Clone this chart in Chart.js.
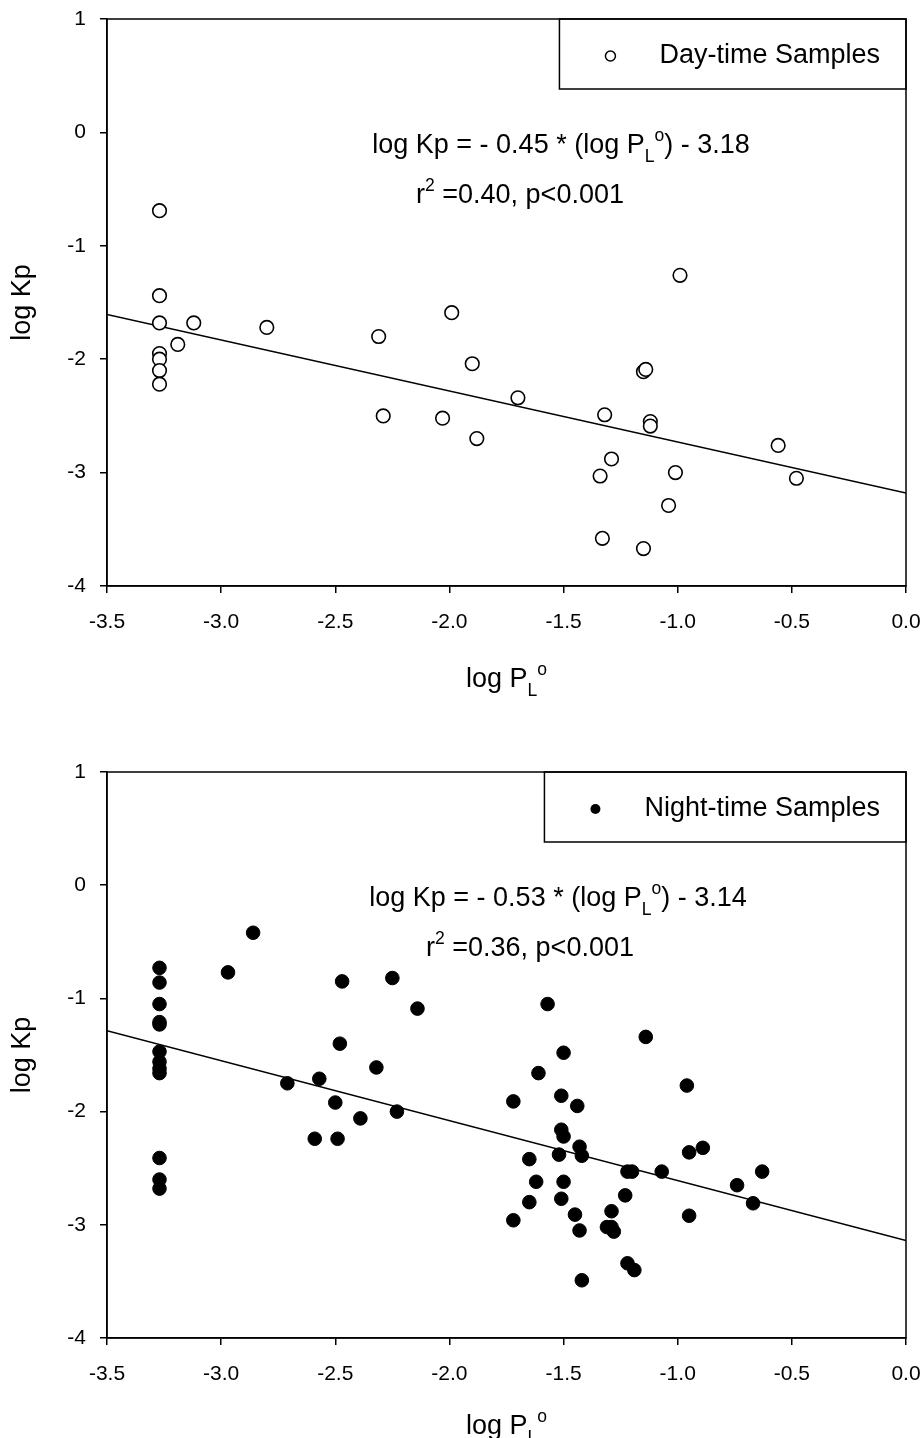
<!DOCTYPE html>
<html>
<head>
<meta charset="utf-8">
<script src="https://cdn.jsdelivr.net/npm/chart.js@4.4.1/dist/chart.umd.min.js"></script>
<style>
  html, body { margin: 0; padding: 0; background: #fff; }
  canvas { display: block; }
</style>
</head>
<body>
<canvas id="dayChart" width="922" height="719"></canvas>
<canvas id="nightChart" width="922" height="719"></canvas>
<script>
// Day-time samples: log PL° (x) vs log Kp (y)
const dayX = [-3.27, -3.27, -3.27, -3.27, -3.27, -3.27, -3.27, -3.19, -3.12, -2.80,
              -2.31, -2.29, -1.99, -2.03, -1.90, -1.88, -1.70, -1.34, -1.33, -1.32,
              -1.29, -1.15, -1.14, -1.15, -1.12, -1.12, -0.99, -1.01, -1.04, -0.56, -0.48];
const dayY = [-0.69, -1.44, -1.68, -1.95, -2.00, -2.10, -2.22, -1.87, -1.68, -1.72,
              -1.80, -2.50, -1.59, -2.52, -2.04, -2.70, -2.34, -3.03, -3.58, -2.49,
              -2.88, -2.11, -2.09, -3.67, -2.55, -2.59, -1.26, -3.00, -3.29, -2.76, -3.05];

// Night-time samples
const nightX = [-3.27, -3.27, -3.27, -3.27, -3.27, -3.27, -3.27, -3.27, -3.27, -3.27, -3.27, -3.27,
                -2.86, -2.97, -2.47, -2.25, -2.14, -2.48, -2.32, -2.71, -2.57, -2.50, -2.39, -2.23,
                -2.59, -2.49, -1.57, -1.14, -1.50, -1.61, -1.72, -1.51, -1.44, -0.96, -1.51, -1.50,
                -1.43, -1.42, -1.52, -1.65, -1.62, -1.50, -1.65, -1.51, -1.72, -1.45, -1.43, -1.42,
                -1.22, -1.20, -1.07, -1.23, -1.29, -1.31, -1.29, -1.28, -1.22, -1.19, -0.95, -0.95,
                -0.89, -0.63, -0.74, -0.67];
const nightY = [-0.73, -0.86, -1.05, -1.21, -1.23, -1.47, -1.56, -1.62, -1.66, -2.41, -2.60, -2.68,
                -0.42, -0.77, -0.85, -0.82, -1.09, -1.40, -1.61, -1.75, -1.71, -1.92, -2.06, -2.00,
                -2.24, -2.24, -1.05, -1.34, -1.48, -1.66, -1.91, -1.86, -1.95, -1.77, -2.16, -2.22,
                -2.31, -2.39, -2.38, -2.42, -2.62, -2.62, -2.80, -2.77, -2.96, -2.91, -3.05, -3.49,
                -2.53, -2.53, -2.53, -2.74, -2.88, -3.02, -3.02, -3.06, -3.34, -3.40, -2.36, -2.92,
                -2.32, -2.53, -2.65, -2.81];

// Regression fits (slope, intercept) and stats
const dayFit = { slope: -0.45, intercept: -3.18, r2: '0.40', p: '0.001' };
const nightFit = { slope: -0.53, intercept: -3.14, r2: '0.36', p: '0.001' };

const xTicks = [-3.5, -3.0, -2.5, -2.0, -1.5, -1.0, -0.5, 0.0];
const yTicks = [-4, -3, -2, -1, 0, 1];

const FONT = '"Liberation Sans", Arial, Helvetica, sans-serif';
const TICK_FONT = '"Liberation Sans Narrow", "Arial Narrow", "Liberation Sans", Arial, sans-serif';
const TEXT_SIZE = 27;
Chart.defaults.font.family = FONT;
Chart.defaults.color = '#000';

// draw a line of text made of normal / subscript / superscript pieces
function richWidth(ctx, parts, size) {
    let w = 0;
    parts.forEach(p => {
        const s = p.s ? size * 0.65 : size;
        ctx.font = s + 'px ' + FONT;
        w += ctx.measureText(p.t).width;
    });
    return w;
}

function drawRich(ctx, parts, x, y, size, align) {
    const total = richWidth(ctx, parts, size);
    let cx = align === 'center' ? x - total / 2 : x;
    ctx.textAlign = 'left';
    ctx.textBaseline = 'alphabetic';
    parts.forEach(p => {
        const s = p.s ? size * 0.65 : size;
        let dy = 0;
        if (p.s === 'sub') dy = size * 0.32;
        if (p.s === 'sup') dy = -size * 0.45;
        ctx.font = s + 'px ' + FONT;
        ctx.fillText(p.t, cx, y + dy);
        cx += ctx.measureText(p.t).width;
    });
}

const decorPlugin = {
    id: 'decor',
    afterDatasetsDraw(chart, args, opts) {
        const ctx = chart.ctx;
        const a = chart.chartArea;
        const fit = opts.fit;
        ctx.save();
        ctx.fillStyle = '#000';
        ctx.strokeStyle = '#000';

        // frame around the plot
        ctx.lineWidth = 1.5;
        ctx.strokeRect(a.left, a.top, a.right - a.left, a.bottom - a.top);

        // legend box in the top-right corner
        ctx.font = TEXT_SIZE + 'px ' + FONT;
        const tw = ctx.measureText(opts.legend).width;
        const bl = a.right - tw - 126;
        ctx.strokeRect(bl, a.top, a.right - bl, 70);
        ctx.beginPath();
        ctx.arc(bl + 51, a.top + 37, 5, 0, Math.PI * 2);
        if (opts.filled) {
            ctx.fill();
        } else {
            ctx.lineWidth = 1.5;
            ctx.stroke();
        }
        ctx.textAlign = 'left';
        ctx.textBaseline = 'middle';
        ctx.fillText(opts.legend, bl + 100, a.top + 37);

        // regression equation and statistics
        const sign = fit.slope < 0 ? '- ' : '';
        drawRich(ctx, [
            { t: 'log Kp = ' + sign + Math.abs(fit.slope).toFixed(2) + ' * (log P' },
            { t: 'L', s: 'sub' },
            { t: 'o', s: 'sup' },
            { t: ') - ' + Math.abs(fit.intercept).toFixed(2) }
        ], opts.eqX, a.top + 134, TEXT_SIZE, 'center');
        drawRich(ctx, [
            { t: 'r' },
            { t: '2', s: 'sup' },
            { t: ' =' + fit.r2 + ', p<' + fit.p }
        ], opts.r2X, a.top + 184, TEXT_SIZE, 'center');

        // axis titles
        const midX = (a.left + a.right) / 2;
        drawRich(ctx, [
            { t: 'log P' },
            { t: 'L', s: 'sub' },
            { t: 'o', s: 'sup' }
        ], midX, a.bottom + opts.titleGap, TEXT_SIZE, 'center');

        ctx.translate(23, (a.top + a.bottom) / 2);
        ctx.rotate(-Math.PI / 2);
        ctx.font = TEXT_SIZE + 'px ' + FONT;
        ctx.textAlign = 'center';
        ctx.textBaseline = 'middle';
        ctx.fillText('log Kp', 0, 0);
        ctx.restore();
    }
};

function makeChart(id, xs, ys, fit, cfg) {
    const points = xs.map((x, i) => ({ x: x, y: ys[i] }));
    const x0 = xTicks[0];
    const x1 = xTicks[xTicks.length - 1];
    const fitLine = [
        { x: x0, y: fit.slope * x0 + fit.intercept },
        { x: x1, y: fit.slope * x1 + fit.intercept }
    ];

    return new Chart(document.getElementById(id).getContext('2d'), {
        type: 'scatter',
        data: {
            datasets: [{
                label: cfg.legend,
                data: points,
                pointRadius: 6.8,
                pointHoverRadius: 6.8,
                pointBorderWidth: cfg.filled ? 1 : 1.6,
                pointBackgroundColor: cfg.filled ? '#000' : '#fff',
                pointBorderColor: '#000',
                order: 1
            }, {
                type: 'line',
                label: 'fit',
                data: fitLine,
                borderColor: '#000',
                borderWidth: 1.5,
                pointRadius: 0,
                fill: false,
                order: 2
            }]
        },
        options: {
            responsive: false,
            animation: false,
            events: [],
            layout: {
                autoPadding: false,
                padding: { top: cfg.top, right: 16, left: 0, bottom: 0 }
            },
            plugins: {
                legend: { display: false },
                tooltip: { enabled: false },
                decor: {
                    fit: fit,
                    legend: cfg.legend,
                    filled: cfg.filled,
                    eqX: cfg.eqX,
                    r2X: cfg.r2X,
                    titleGap: cfg.titleGap
                }
            },
            scales: {
                x: {
                    type: 'linear',
                    min: x0,
                    max: x1,
                    afterFit: s => {
                        s.height = cfg.xAxisHeight;
                        s.paddingLeft = 0;
                        s.paddingRight = 0;
                    },
                    afterBuildTicks: s => { s.ticks = xTicks.map(v => ({ value: v })); },
                    ticks: {
                        padding: 17,
                        maxRotation: 0,
                        autoSkip: false,
                        font: { size: 21, family: TICK_FONT },
                        callback: v => v.toFixed(1)
                    },
                    grid: { drawOnChartArea: false, tickLength: 7, color: '#000', lineWidth: 1.5 },
                    border: { color: '#000', width: 1.5 }
                },
                y: {
                    type: 'linear',
                    min: yTicks[0],
                    max: yTicks[yTicks.length - 1],
                    afterFit: s => {
                        s.width = 107;
                        s.paddingTop = 0;
                        s.paddingBottom = 0;
                    },
                    afterBuildTicks: s => { s.ticks = yTicks.map(v => ({ value: v })); },
                    ticks: {
                        padding: 14,
                        font: { size: 21, family: TICK_FONT },
                        callback: v => String(v)
                    },
                    grid: { drawOnChartArea: false, tickLength: 7, color: '#000', lineWidth: 1.5 },
                    border: { color: '#000', width: 1.5 }
                }
            }
        },
        plugins: [decorPlugin]
    });
}

makeChart('dayChart', dayX, dayY, dayFit, {
    legend: 'Day-time Samples', filled: false,
    top: 19, xAxisHeight: 133, titleGap: 101, eqX: 561, r2X: 520
});
makeChart('nightChart', nightX, nightY, nightFit, {
    legend: 'Night-time Samples', filled: true,
    top: 53, xAxisHeight: 100, titleGap: 96, eqX: 558, r2X: 530
});
</script>
</body>
</html>
